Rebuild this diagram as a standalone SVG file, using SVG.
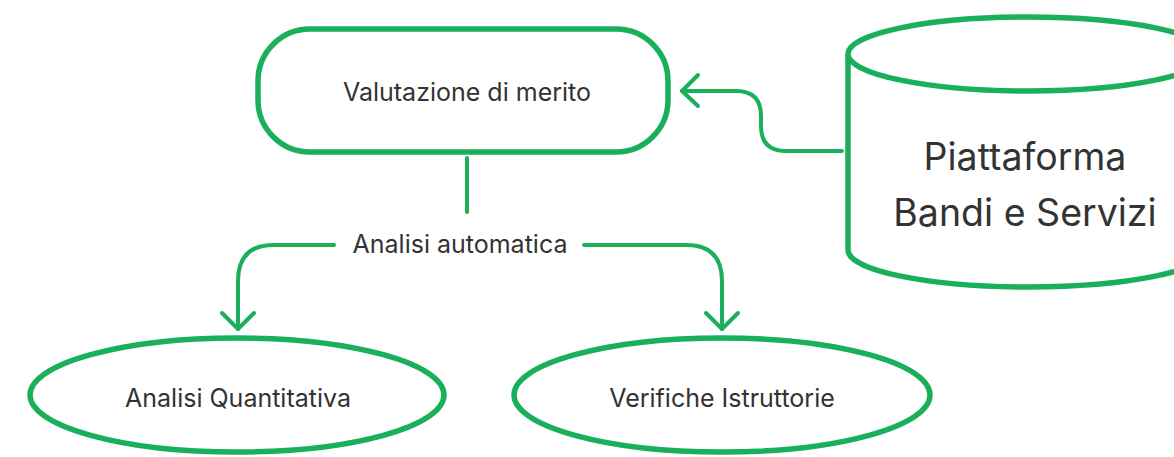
<svg xmlns="http://www.w3.org/2000/svg" width="1174" height="457" viewBox="0 0 1174 457">
<style>
.node{fill:#fff;stroke:#1aaf5b;stroke-width:5.5}
.edge{fill:none;stroke:#1aaf5b;stroke-width:4;stroke-linecap:round;stroke-linejoin:round}
.lbl{font-family:Inter,"Noto Sans","Liberation Sans",sans-serif;fill:#333;text-anchor:middle;dominant-baseline:central}
.s20{font-size:25px}
.s32{font-size:37.5px}
</style>
<rect width="1174" height="457" fill="#fff"/>
<g id="connectors">
<path class="edge" d="M842,151 L786,151 Q761,151 761,126 L761,116 Q761,91 736,91 L682,91"/>
<path class="edge" d="M698,75 L682,91 L698,106"/>
<path class="edge" d="M467,158 L467,212"/>
<path class="edge" d="M334,245 L274,245 Q238,245 238,281 L238,329"/>
<path class="edge" d="M222,313 L238,329 L254,313"/>
<path class="edge" d="M584,245 L686,245 Q722,245 722,281 L722,329"/>
<path class="edge" d="M706,313 L722,329 L738,313"/>
<text class="lbl s20" x="460" y="244">Analisi automatica</text>
</g>
<g id="valutazione">
<rect class="node" x="258" y="29" width="410" height="123" rx="52" ry="52"/>
<text class="lbl s20" x="467" y="92">Valutazione di merito</text>
</g>
<g id="piattaforma">
<path class="node" d="M848,54 L848,250 A180,37 0 0 0 1208,250 L1208,54"/>
<ellipse class="node" cx="1028" cy="54" rx="180" ry="37"/>
<text class="lbl s32" x="1025" y="156">Piattaforma</text>
<text class="lbl s32" x="1025" y="212">Bandi e Servizi</text>
</g>
<g id="quantitativa">
<ellipse class="node" cx="237" cy="395" rx="207" ry="57"/>
<text class="lbl s20" x="238" y="398">Analisi Quantitativa</text>
</g>
<g id="istruttorie">
<ellipse class="node" cx="722" cy="395" rx="208" ry="57"/>
<text class="lbl s20" x="722" y="398">Verifiche Istruttorie</text>
</g>
</svg>
